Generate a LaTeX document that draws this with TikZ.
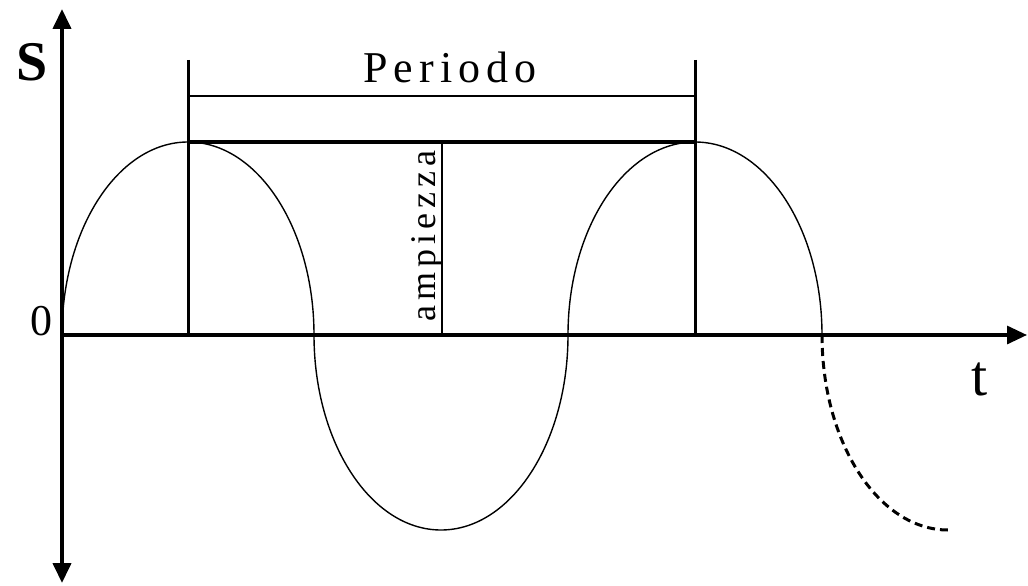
\documentclass[tikz,border=0pt]{standalone}
\usepackage{fontspec}
\setmainfont{Liberation Serif}
\newfontfamily\spacedfont[LetterSpace=14]{Liberation Serif}
\usetikzlibrary{arrows.meta}

\begin{document}
\begin{tikzpicture}[x=0.5pt,y=0.5pt,
  saxis/.style={line width=2pt,{Triangle[length=10pt,width=9pt]}-{Triangle[length=10pt,width=9pt]}},
  taxis/.style={line width=1.6pt,-{Triangle[length=10pt,width=9pt]}},
  marker/.style={line width=1.5pt},
  thin/.style={line width=0.9pt},
  wave/.style={line width=0.7pt},
  tail/.style={line width=1.5pt,dash pattern=on 4pt off 2.5pt},
  txt/.style={inner sep=0pt,font=\fontsize{22}{24}\selectfont}]
\useasboundingbox (0,0) rectangle (1028,585);

% axes
\coordinate (O) at (62,250);
\coordinate (stop) at (62,576);
\coordinate (sbot) at (62,2);
\coordinate (tend) at (1027,250);
\draw[saxis] (sbot) -- (stop);
\draw[taxis] (O) -- (tend);
\node[txt,font=\bfseries\fontsize{28}{30}\selectfont] (S) at (32,523) {S};
\node[txt] (zero) at (41,264) {0};
\node[txt,font=\fontsize{29}{31}\selectfont] (t) at (980,206) {t};

% period and amplitude markers
\coordinate (Ptop) at (188,525);
\coordinate (Pbot) at (188,250);
\coordinate (Qtop) at (695,525);
\coordinate (Qbot) at (695,250);
\coordinate (Pbar) at (188,489);
\coordinate (Qbar) at (695,489);
\coordinate (Ppeak) at (188,443);
\coordinate (Qpeak) at (695,443);
\coordinate (Atop) at (442,443);
\coordinate (Abot) at (442,250);
\draw[marker] (Ptop) -- (Pbot);
\draw[marker] (Qtop) -- (Qbot);
\draw[thin] (Pbar) -- (Qbar);
\draw[marker,line width=1.7pt] (Ppeak) -- (Qpeak);
\draw[thin] (Atop) -- (Abot);
\node[txt,font=\spacedfont\fontsize{22}{24}\selectfont] (periodo) at (450,518) {Periodo};
\node[txt,font=\spacedfont\fontsize{18}{20}\selectfont,rotate=90] (ampiezza) at (427,349) {ampiezza};

% signal
\draw[wave] (O) arc[start angle=180,end angle=0,x radius=126,y radius=193]
  arc[start angle=180,end angle=360,x radius=127,y radius=195]
  arc[start angle=180,end angle=0,x radius=127,y radius=193] coordinate (cross);
\draw[tail] (cross) arc[start angle=180,end angle=270,x radius=126,y radius=195];
\end{tikzpicture}
\end{document}
